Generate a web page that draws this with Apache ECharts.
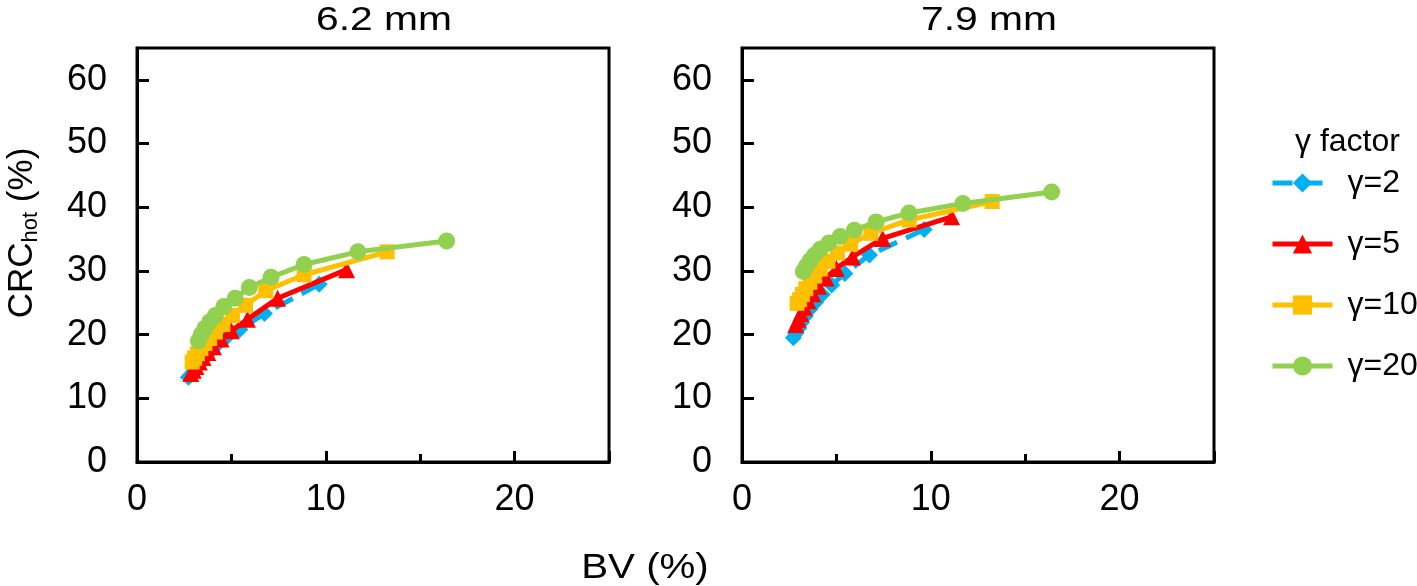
<!DOCTYPE html>
<html>
<head>
<meta charset="utf-8">
<script src="https://cdn.jsdelivr.net/npm/echarts@6/dist/echarts.min.js"></script>
<style>
html,body{margin:0;padding:0;background:#fff;}
#chart{width:1417px;height:586px;}
</style>
</head>
<body>
<div id="chart"></div>
<script>
// Panel titles and legend names
const panelTitles = ['6.2 mm', '7.9 mm'];
const seriesNames = ['γ=2', 'γ=5', 'γ=10', 'γ=20'];
const xTicks = [0, 10, 20];
const yTicks = [0, 10, 20, 30, 40, 50, 60];

// BV (%) per gamma factor (shared by both panels)
const bvG2  = [9.65, 6.75, 5.45, 4.75, 4.25, 3.9, 3.6, 3.35, 3.15, 3.0, 2.85, 2.72];
const bvG5  = [11.1, 7.45, 5.85, 5.0, 4.45, 4.05, 3.75, 3.5, 3.3, 3.12, 2.98, 2.85];
const bvG10 = [13.25, 8.85, 6.82, 5.75, 5.05, 4.55, 4.15, 3.85, 3.6, 3.38, 3.2, 3.05, 2.92];
const bvG20 = [16.4, 11.7, 8.85, 7.1, 5.95, 5.2, 4.6, 4.15, 3.85, 3.6, 3.4, 3.25];

// CRC_hot (%) — 6.2 mm sphere
const crc62G2  = [27.9, 23.3, 20.8, 19.6, 18.4, 17.4, 16.4, 15.6, 14.9, 14.3, 13.7, 13.3];
const crc62G5  = [30.2, 25.7, 22.4, 20.6, 19.3, 18.1, 17.2, 16.4, 15.7, 15.0, 14.4, 13.9];
const crc62G10 = [33.0, 29.4, 26.9, 24.6, 23.0, 21.6, 20.4, 19.4, 18.6, 17.8, 17.0, 16.3, 15.7];
const crc62G20 = [34.7, 33.0, 31.0, 29.0, 27.4, 25.7, 24.4, 23.0, 22.0, 21.0, 20.0, 19.0];

// CRC_hot (%) — 7.9 mm sphere
const crc79G2  = [36.5, 32.5, 29.6, 27.8, 26.3, 25.1, 24.0, 22.9, 21.9, 21.0, 20.2, 19.5];
const crc79G5  = [38.5, 35.1, 32.2, 30.4, 28.9, 27.6, 26.4, 25.3, 24.3, 23.3, 22.4, 21.6];
const crc79G10 = [40.9, 38.0, 35.9, 34.2, 32.8, 31.5, 30.3, 29.2, 28.2, 27.2, 26.3, 25.5, 24.9];
const crc79G20 = [42.4, 40.6, 39.1, 37.7, 36.4, 35.4, 34.4, 33.4, 32.5, 31.6, 30.7, 29.9];

const FONT = 'Liberation Sans, Arial, sans-serif';
const colors = ['#00B0F0', '#FF0000', '#FFC000', '#92D050'];
const symbols = ['diamond', 'triangle', 'rect', 'circle'];
const symbolSizes = [17, 17, 15, 17];
const dashes = ['dashed', 'solid', 'solid', 'solid'];

const bvs = [bvG2, bvG5, bvG10, bvG20];
const panels = [
  [crc62G2, crc62G5, crc62G10, crc62G20],
  [crc79G2, crc79G5, crc79G10, crc79G20]
];

function pairs(xs, ys) { return xs.map((x, i) => [x, ys[i]]); }

const gridLefts = [137, 742];
const titleCenters = [384, 989];
const grids = gridLefts.map(l => ({
  left: l, top: 48, width: 472, height: 414,
  show: true, borderColor: '#000', borderWidth: 3, backgroundColor: 'transparent'
}));

const xAxes = gridLefts.map((l, i) => ({
  type: 'value', gridIndex: i, min: 0, max: 25, interval: 10,
  axisLine: { show: true, onZero: false, lineStyle: { color: '#000', width: 3 } },
  axisTick: { show: true, inside: true, length: 11, lineStyle: { color: '#000', width: 3 } },
  minorTick: { show: true, splitNumber: 2, length: 8, lineStyle: { color: '#000', width: 3 } },
  splitLine: { show: false },
  axisLabel: {
    show: true, margin: 20, fontSize: 36, color: '#000', fontFamily: FONT,
    showMaxLabel: false,
    formatter: v => (xTicks.indexOf(v) >= 0 ? String(v) : '')
  }
}));

const yAxes = gridLefts.map((l, i) => ({
  type: 'value', gridIndex: i, min: 0, max: 65, interval: 10,
  axisLine: { show: true, onZero: false, lineStyle: { color: '#000', width: 3 } },
  axisTick: { show: true, inside: true, length: 12, lineStyle: { color: '#000', width: 3 } },
  splitLine: { show: false },
  axisLabel: {
    show: true, margin: 30, fontSize: 36, color: '#000', fontFamily: FONT,
    showMaxLabel: false,
    formatter: v => (yTicks.indexOf(v) >= 0 ? String(v) : '')
  }
}));

const series = [];
panels.forEach((crcs, p) => {
  crcs.forEach((ys, k) => {
    series.push({
      name: seriesNames[k], type: 'line', xAxisIndex: p, yAxisIndex: p,
      data: pairs(bvs[k], ys),
      symbol: symbols[k], symbolSize: symbolSizes[k],
      lineStyle: { color: colors[k], width: 5, type: dashes[k] },
      itemStyle: { color: colors[k] },
      z: 2 + k, animation: false
    });
  });
});

const chart = echarts.init(document.getElementById('chart'), null, { renderer: 'canvas' });
chart.setOption({
  backgroundColor: '#fff',
  animation: false,
  title: [{
    text: 'γ factor', left: 1290, top: 121,
    textStyle: { fontSize: 32, fontWeight: 'normal', color: '#000', fontFamily: FONT }
  }],
  legend: {
    orient: 'vertical', left: 1265, top: 161,
    itemWidth: 60, itemHeight: 24, itemGap: 27,
    data: seriesNames,
    lineStyle: { width: 5 },
    textStyle: { fontSize: 32, color: '#000', fontFamily: FONT, lineHeight: 34, padding: [0, 0, 0, 10] }
  },
  grid: grids,
  xAxis: xAxes,
  yAxis: yAxes,
  series: series,
  graphic: panelTitles.map((t, i) => ({
    type: 'text', x: titleCenters[i], y: 21, scaleX: 1.2,
    style: { text: t, fontSize: 34, fill: '#000', fontFamily: FONT, align: 'center', verticalAlign: 'middle' }
  })).concat([
    {
      type: 'text', x: 645, y: 568, scaleX: 1.15,
      style: { text: 'BV (%)', fontSize: 35, fill: '#000', fontFamily: FONT, align: 'center', verticalAlign: 'middle' }
    },
    {
      type: 'text', x: 22, y: 233, rotation: Math.PI / 2,
      style: {
        text: '{a|CRC}{b|hot}{a| (%)}',
        align: 'center', verticalAlign: 'middle',
        rich: {
          a: { fontSize: 35, fill: '#000', fontFamily: FONT, lineHeight: 40 },
          b: { fontSize: 22, fill: '#000', fontFamily: FONT, lineHeight: 20, verticalAlign: 'bottom' }
        }
      }
    }
  ])
});
</script>
</body>
</html>
